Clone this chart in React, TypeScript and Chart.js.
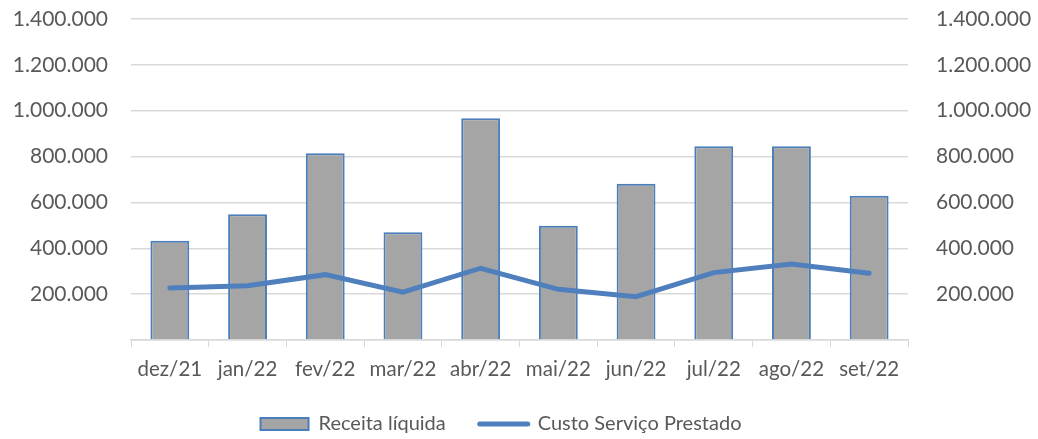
import React, { useEffect, useRef } from "react";
import { Chart, registerables } from "chart.js";

Chart.register(...registerables);

const categories = ["dez/21", "jan/22", "fev/22", "mar/22", "abr/22", "mai/22", "jun/22", "jul/22", "ago/22", "set/22"];
const receitaLiquida = [433000, 548000, 814000, 470000, 967000, 498000, 682000, 845000, 845000, 629000];
const custoServico = [227000, 237000, 285000, 209000, 313000, 221000, 189000, 294000, 331000, 291000];
const seriesNames = ["Receita líquida", "Custo Serviço Prestado"];

const FONT = "Lato, 'Noto Sans', sans-serif";
const TEXT = "#595959";
const GRID = "#d9d9d9";
const BAR_FILL = "#a5a5a5";
const BAR_BORDER = "#4a7ebb";
const LINE = "#4f80bd";

const fmt = (v: number) => (v === 0 ? "" : v.toLocaleString("de-DE"));

const shiftLegend = {
  id: "shiftLegend",
  afterLayout(chart: any) {
    const l = chart.legend;
    if (l) {
      l.right -= 36;
    }
  },
};

export default function App() {
  const ref = useRef<HTMLCanvasElement | null>(null);
  useEffect(() => {
    if (!ref.current) return;
    const chart = new Chart(ref.current, {
      type: "bar",
      data: {
        labels: categories,
        datasets: [
          {
            type: "bar",
            label: seriesNames[0],
            data: receitaLiquida,
            backgroundColor: BAR_FILL,
            borderColor: BAR_BORDER,
            borderWidth: 2,
            barPercentage: 1,
            categoryPercentage: 0.5,
            yAxisID: "y",
            order: 1,
          },
          {
            type: "line",
            label: seriesNames[1],
            data: custoServico,
            borderColor: LINE,
            backgroundColor: LINE,
            borderWidth: 5,
            borderCapStyle: "round",
            borderJoinStyle: "miter",
            pointRadius: 0,
            tension: 0,
            yAxisID: "y1",
            order: 0,
          } as any,
        ],
      },
      options: {
        animation: false,
        responsive: true,
        maintainAspectRatio: false,
        layout: { padding: { top: 0, bottom: -5, left: 0, right: 0 } },
        plugins: {
          tooltip: { enabled: false },
          legend: {
            position: "bottom",
            labels: {
              usePointStyle: true,
              pointStyleWidth: 48,
              boxHeight: 12,
              padding: 34,
              color: TEXT,
              font: { family: FONT, size: 20 },
              generateLabels: () => [
                {
                  text: seriesNames[0],
                  fillStyle: BAR_FILL,
                  strokeStyle: BAR_BORDER,
                  lineWidth: 2,
                  pointStyle: "rect",
                  datasetIndex: 0,
                  hidden: false,
                  fontColor: TEXT,
                },
                {
                  text: seriesNames[1],
                  fillStyle: LINE,
                  strokeStyle: LINE,
                  lineWidth: 5,
                  lineCap: "round",
                  pointStyle: "line",
                  datasetIndex: 1,
                  hidden: false,
                  fontColor: TEXT,
                },
              ] as any,
            },
          },
        },
        scales: {
          x: {
            offset: true,
            grid: { display: true, drawOnChartArea: false, drawTicks: true, tickLength: 7, color: GRID, offset: true },
            border: { display: true, color: GRID, width: 1.5 },
            ticks: { color: TEXT, font: { family: FONT, size: 20.5 }, padding: 10, maxRotation: 0, autoSkip: false },
            afterFit: (s: any) => {
              s.height = 40;
            },
          },
          y: {
            position: "left",
            min: 0,
            max: 1400000,
            ticks: { stepSize: 200000, color: TEXT, font: { family: FONT, size: 21 }, padding: 23, callback: (v: any) => fmt(Number(v)) },
            grid: { color: GRID, lineWidth: 1.5, drawTicks: false },
            border: { display: false },
            afterFit: (s: any) => {
              s.width = 131;
              s.paddingTop = 19;
            },
          },
          y1: {
            position: "right",
            min: 0,
            max: 1400000,
            ticks: { stepSize: 200000, color: TEXT, font: { family: FONT, size: 21 }, padding: 28, callback: (v: any) => fmt(Number(v)) },
            grid: { display: false, drawTicks: false },
            border: { display: false },
            afterFit: (s: any) => {
              s.width = 130;
              s.paddingTop = 19;
            },
          },
        },
      },
      plugins: [shiftLegend],
    });
    return () => chart.destroy();
  }, []);
  return (
    <div style={{ position: "fixed", left: 0, top: 0, width: 1038, height: 439, background: "#fff" }}>
      <canvas ref={ref} />
    </div>
  );
}
